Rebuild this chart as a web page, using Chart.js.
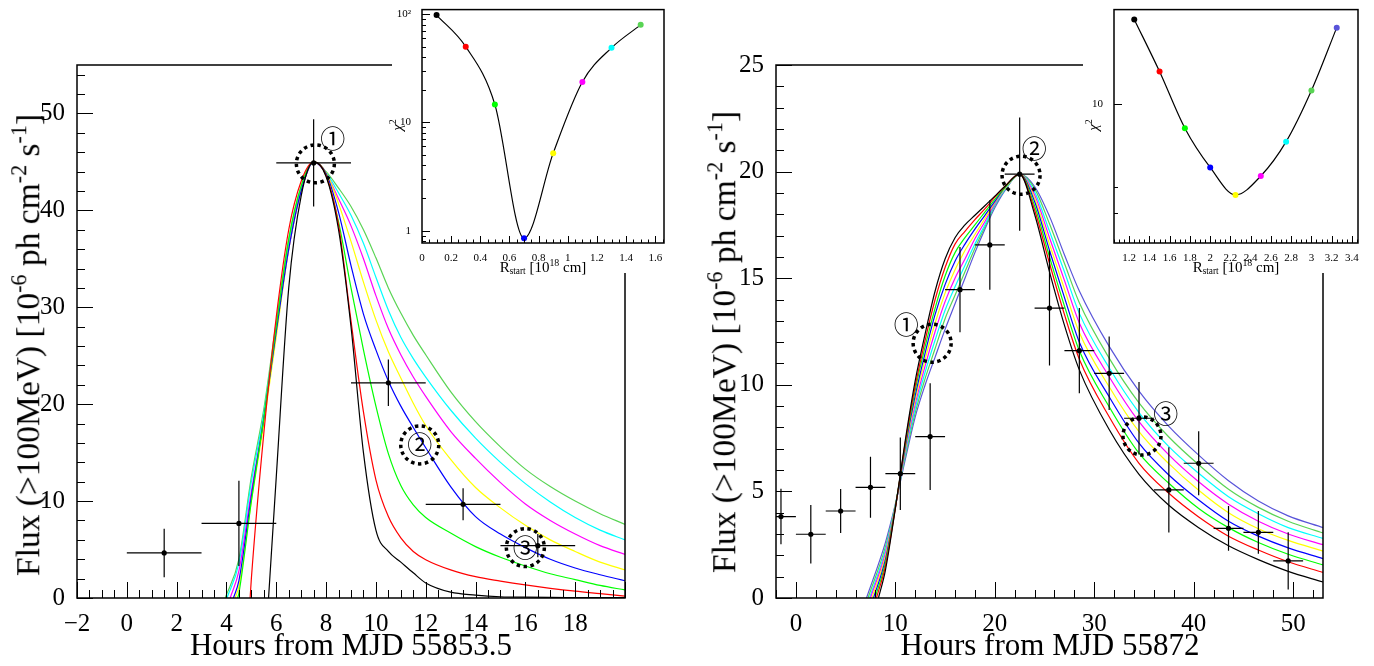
<!DOCTYPE html>
<html>
<head>
<meta charset="utf-8">
<script src="https://cdn.jsdelivr.net/npm/chart.js@4.4.0/dist/chart.umd.min.js"></script>
<style>
  body { margin: 0; background: #fff; }
  #wrap { position: relative; width: 1374px; height: 666px; overflow: hidden; font-family: "Liberation Serif", serif; }
  canvas { position: absolute; top: 0; }
  .ttl { position: absolute; white-space: nowrap; color: #000; line-height: 1; }
  .ttl sup { font-size: 0.66em; vertical-align: 0.6em; line-height: 0; }
  .ttl sub { font-size: 0.62em; vertical-align: -0.25em; line-height: 0; }
  .ytl { transform: translate(-50%, -50%) rotate(-90deg); }
  .xtl { transform: translateX(-50%); }
</style>
</head>
<body>
<div id="wrap">
  <canvas id="mainL" width="660" height="666" style="left:0"></canvas>
  <canvas id="mainR" width="660" height="666" style="left:690px"></canvas>
  <canvas id="insetL" width="288" height="273" style="left:392px;background:#fff"></canvas>
  <canvas id="insetR" width="291" height="273" style="left:1083px;background:#fff"></canvas>

  <div class="ttl ytl" style="left:28px;top:345px;font-size:33.5px">Flux (&gt;100MeV) [10<sup>-6</sup> ph cm<sup>-2</sup> s<sup>-1</sup>]</div>
  <div class="ttl ytl" style="left:724px;top:342px;font-size:33.5px">Flux (&gt;100MeV) [10<sup>-6</sup> ph cm<sup>-2</sup> s<sup>-1</sup>]</div>
  <div class="ttl xtl" style="left:351px;top:629px;font-size:31px">Hours from MJD 55853.5</div>
  <div class="ttl xtl" style="left:1050px;top:629px;font-size:31px">Hours from MJD 55872</div>

  <div class="ttl ytl" style="left:397px;top:125px;font-size:15px"><i>χ</i><sup>2</sup></div>
  <div class="ttl ytl" style="left:1093px;top:125px;font-size:15px"><i>χ</i><sup>2</sup></div>
  <div class="ttl xtl" style="left:543px;top:260px;font-size:15px">R<sub>start</sub> [10<sup>18</sup> cm]</div>
  <div class="ttl xtl" style="left:1236px;top:260px;font-size:15px">R<sub>start</sub> [10<sup>18</sup> cm]</div>
</div>
<script>
// ---- flare 1 (left) ----
const leftHours   = [1.5, 4.5, 7.5, 10.5, 13.5, 16.5];
const leftFlux    = [4.65, 7.7, 44.9, 22.2, 9.67, 5.4];
const leftFluxErr = [2.5, 4.4, 4.5, 2.4, 1.65, 1.2];
const leftHalfBin = 1.5;

const leftGrid  = [4.5, 5, 5.5, 6, 6.5, 7, 7.5, 8, 8.5, 9, 9.5, 10, 10.5, 11, 11.5, 12, 13, 14, 15, 16, 17, 18, 19, 20];
const leftOnset = [5.69, 4.95, 4.45, 4.28, 4.35, 4.15, 4.02, 3.95];
const leftBlack   = [null, null, null, 12.5, 32, 41.5, 45, 43.5, 38, 28, 15, 7, 4.8, 3.7, 2.6, 1.55, 0.6, 0.3, 0.13, 0.08, 0.06, 0.05, 0.04, 0.03];
const leftRed     = [null, 2, 17, 29, 38, 43, 45, 43.6, 38.5, 28.6, 19.2, 12.2, 8.4, 6.2, 4.8, 3.95, 2.9, 2.2, 1.75, 1.35, 1.0, 0.7, 0.45, 0.2];
const leftGreen   = [0.5, 10, 18.5, 28, 37, 42.5, 45, 43.6, 38.8, 32.0, 25.6, 19.8, 14.9, 11.6, 9.6, 8.3, 6.7, 5.3, 4.2, 3.3, 2.5, 1.9, 1.3, 0.83];
const leftBlue    = [1.8, 10.5, 18.5, 27.5, 36, 42, 45, 43.8, 39.8, 34.3, 29.3, 25.6, 22.4, 19.8, 17.6, 15.5, 11.5, 8.4, 6.6, 5.2, 4.0, 3.1, 2.4, 1.78];
const leftYellow  = [1.2, 10, 18, 27, 36, 42, 45, 43.9, 40.7, 36.8, 32.6, 28.7, 25.4, 22.7, 20.1, 17.8, 14.3, 11.4, 9.3, 7.5, 6.0, 4.8, 3.7, 2.9];
const leftMagenta = [2.8, 11, 18.5, 27.5, 36, 42, 45, 43.8, 41.2, 38.4, 35.0, 31.2, 27.8, 25.1, 22.8, 20.8, 17.2, 14.4, 11.9, 9.7, 8.0, 6.6, 5.4, 4.5];
const leftCyan    = [3.6, 12, 19, 28, 36.5, 42.3, 45, 43.9, 41.8, 39.5, 36.6, 33.1, 29.7, 26.9, 24.7, 22.8, 19.4, 16.5, 14.0, 11.8, 9.9, 8.3, 7.0, 6.0];
const leftLtGreen = [4, 12.5, 19.5, 28.5, 37, 42.5, 45, 44.0, 42.3, 40.4, 38.0, 35.1, 32.0, 29.4, 27.1, 25.1, 21.3, 18.2, 15.6, 13.3, 11.5, 10.0, 8.7, 7.6];

const leftXLabels = [-2, 0, 2, 4, 6, 8, 10, 12, 14, 16, 18];
const leftYLabels = [0, 10, 20, 30, 40, 50];

// ---- flare 2 (right) ----
const rightHours   = [-1.5, 1.5, 4.5, 7.5, 10.5, 13.5, 16.5, 19.5, 22.5, 25.5, 28.5, 31.5, 34.5, 37.5, 40.5, 43.5, 46.5, 49.5];
const rightFlux    = [3.82, 2.99, 4.08, 5.19, 5.83, 7.57, 14.46, 16.56, 19.88, 13.6, 11.6, 10.54, 8.43, 5.07, 6.32, 3.27, 3.08, 1.74];
const rightFluxErr = [1.3, 1.37, 1.03, 1.43, 1.7, 2.5, 2.0, 2.1, 2.66, 2.7, 2.0, 1.72, 1.7, 2.0, 1.5, 1.05, 1.0, 1.34];
const rightHalfBin = 1.5;

const rightGrid  = [9, 10, 11, 12, 13, 14, 15, 16, 17, 18, 19, 20, 21, 22.5, 24, 25.5, 27, 28.5, 31.5, 34.5, 37.5, 40.5, 43.5, 46.5, 49.5, 53];
const rightOnset = [8.3, 8.1, 7.95, 7.8, 7.65, 7.5, 7.4, 7.25, 7.1];
const rightBlack     = [1.3, 4.2, 7.4, 10.2, 12.4, 14.4, 15.9, 16.9, 17.5, 17.95, 18.4, 18.85, 19.3, 19.88, 18.0, 15.3, 12.8, 10.7, 7.9, 5.8, 4.35, 3.3, 2.45, 1.8, 1.25, 0.75];
const rightRed       = [1.5, 4.2, 7.3, 9.95, 12.1, 14.0, 15.5, 16.6, 17.2, 17.75, 18.25, 18.8, 19.3, 19.88, 18.2, 15.7, 13.3, 11.2, 8.5, 6.32, 4.91, 3.8, 2.9, 2.25, 1.7, 1.2];
const rightGreen     = [1.65, 4.25, 7.2, 9.75, 11.8, 13.6, 15.1, 16.2, 16.9, 17.5, 18.1, 18.7, 19.25, 19.88, 18.4, 16.0, 13.7, 11.6, 8.97, 6.79, 5.38, 4.2, 3.3, 2.6, 2.05, 1.55];
const rightBlue      = [1.8, 4.25, 7.1, 9.5, 11.5, 13.3, 14.7, 15.8, 16.6, 17.3, 17.95, 18.6, 19.25, 19.88, 18.6, 16.3, 14.1, 12.0, 9.44, 7.26, 5.77, 4.6, 3.6, 2.9, 2.35, 1.85];
const rightYellow    = [1.95, 4.3, 7.0, 9.3, 11.2, 12.9, 14.3, 15.4, 16.3, 17.05, 17.8, 18.55, 19.2, 19.88, 18.75, 16.6, 14.5, 12.45, 9.91, 7.8, 6.3, 5.05, 4.0, 3.25, 2.7, 2.2];
const rightMagenta   = [2.1, 4.3, 6.9, 9.1, 10.9, 12.5, 13.9, 15.0, 15.9, 16.85, 17.65, 18.5, 19.2, 19.88, 18.9, 16.9, 14.9, 12.9, 10.38, 8.27, 6.71, 5.45, 4.4, 3.6, 3.0, 2.5];
const rightCyan      = [2.25, 4.35, 6.8, 8.9, 10.6, 12.1, 13.5, 14.6, 15.6, 16.6, 17.5, 18.45, 19.15, 19.88, 19.05, 17.2, 15.3, 13.35, 10.8, 8.7, 7.1, 5.85, 4.75, 3.95, 3.3, 2.8];
const rightLtGreen   = [2.4, 4.35, 6.65, 8.7, 10.3, 11.7, 13.1, 14.2, 15.3, 16.4, 17.4, 18.4, 19.15, 19.88, 19.2, 17.55, 15.7, 13.85, 11.25, 9.15, 7.55, 6.25, 5.1, 4.25, 3.6, 3.05];
const rightSlateBlue = [2.6, 4.4, 6.5, 8.5, 10.0, 11.3, 12.6, 13.8, 15.0, 16.2, 17.3, 18.3, 19.1, 19.88, 19.3, 17.9, 16.1, 14.4, 11.8, 9.7, 8.05, 6.7, 5.5, 4.55, 3.85, 3.3];

const rightXLabels = [0, 10, 20, 30, 40, 50];
const rightYLabels = [0, 5, 10, 15, 20, 25];

// ---- chi2 scans (insets) ----
const leftRstart  = [0.1, 0.3, 0.5, 0.7, 0.9, 1.1, 1.3, 1.5];
const leftChi2    = [98, 50, 14.6, 0.85, 5.2, 23.6, 48.8, 79.5];
const rightRstart = [1.25, 1.5, 1.75, 2.0, 2.25, 2.5, 2.75, 3.0, 3.25];
const rightChi2   = [25.4, 14.3, 7.66, 4.97, 3.67, 4.52, 6.6, 11.6, 23.2];
const leftInsetXLabels  = [0, 0.2, 0.4, 0.6, 0.8, 1, 1.2, 1.4, 1.6];
const rightInsetXLabels = [1.2, 1.4, 1.6, 1.8, 2, 2.2, 2.4, 2.6, 2.8, 3, 3.2, 3.4];

// circled annotations
const leftMarkX  = [7.57, 11.76, 16.0],  leftMarkY  = [44.8, 15.8, 5.2];
const leftTagX   = [8.27, 11.76, 16.0],  leftTagY   = [47.4, 15.8, 5.2];
const rightMarkX = [13.7, 22.64, 34.8],  rightMarkY = [11.95, 19.83, 7.6];
const rightTagX  = [11.1, 23.97, 37.2],  rightTagY  = [12.85, 21.1, 8.66];
const tagText = ['\u2460', '\u2461', '\u2462'];

const curveColors = ['#000000', '#ff0000', '#00ff00', '#0000ff', '#ffff00', '#ff00ff', '#00ffff', '#59d454', '#5954d9'];
const SERIF = '"Liberation Serif", "Times New Roman", serif';

Chart.defaults.font.family = SERIF;
Chart.defaults.color = '#000';

function fmt(v) {
  const s = String(Math.round(v * 100) / 100);
  return v < 0 ? '\u2212' + s.slice(1) : s;
}

function linTicks(min, max, minorStep, majorStep, majLen, minLen) {
  const out = [];
  const start = Math.ceil(min / minorStep - 1e-6);
  const stop = Math.floor(max / minorStep + 1e-6);
  for (let k = start; k <= stop; k++) {
    const v = k * minorStep;
    const q = v / majorStep;
    out.push([v, Math.abs(q - Math.round(q)) < 1e-6 ? majLen : minLen]);
  }
  return out;
}

function logTicks(min, max, majLen, minLen) {
  const out = [];
  for (let e = -1; e <= 2; e++) {
    for (let m = 1; m <= 9; m++) {
      const v = m * Math.pow(10, e);
      if (v >= min && v <= max) out.push([v, m === 1 ? majLen : minLen]);
    }
  }
  return out;
}

// inward ROOT style ticks + frame
function rootAxes(xTicks, yTicks, frameW) {
  return {
    id: 'rootAxes',
    afterDatasetsDraw(chart) {
      const { ctx, chartArea: a } = chart;
      const xs = chart.scales.x, ys = chart.scales.y;
      ctx.save();
      ctx.strokeStyle = '#000';
      ctx.lineWidth = 1;
      ctx.beginPath();
      xTicks.forEach(([v, len]) => {
        const p = Math.round(xs.getPixelForValue(v)) + 0.5;
        ctx.moveTo(p, a.bottom); ctx.lineTo(p, a.bottom - len);
      });
      yTicks.forEach(([v, len]) => {
        const p = Math.round(ys.getPixelForValue(v)) + 0.5;
        ctx.moveTo(a.left, p); ctx.lineTo(a.left + len, p);
      });
      ctx.stroke();
      ctx.lineWidth = frameW;
      ctx.strokeRect(a.left, a.top, a.right - a.left, a.bottom - a.top);
      ctx.restore();
    }
  };
}

function errBars(xv, yv, ex, ey) {
  return {
    id: 'errBars',
    afterDatasetsDraw(chart) {
      const { ctx, chartArea: a } = chart;
      const xs = chart.scales.x, ys = chart.scales.y;
      ctx.save();
      ctx.beginPath();
      ctx.rect(a.left, a.top, a.right - a.left, a.bottom - a.top);
      ctx.clip();
      ctx.strokeStyle = '#000';
      ctx.lineWidth = 1.2;
      ctx.beginPath();
      xv.forEach((x, i) => {
        const px = xs.getPixelForValue(x), py = ys.getPixelForValue(yv[i]);
        ctx.moveTo(xs.getPixelForValue(x - ex), py);
        ctx.lineTo(xs.getPixelForValue(x + ex), py);
        ctx.moveTo(px, ys.getPixelForValue(yv[i] - ey[i]));
        ctx.lineTo(px, ys.getPixelForValue(yv[i] + ey[i]));
      });
      ctx.stroke();
      ctx.restore();
    }
  };
}

function marks(mx, my, tx, ty) {
  return {
    id: 'marks',
    afterDatasetsDraw(chart) {
      const { ctx } = chart;
      const xs = chart.scales.x, ys = chart.scales.y;
      ctx.save();
      ctx.strokeStyle = '#000';
      ctx.lineWidth = 3.5;
      ctx.setLineDash([3.5, 3.5]);
      mx.forEach((x, i) => {
        ctx.beginPath();
        ctx.arc(xs.getPixelForValue(x), ys.getPixelForValue(my[i]), 19, 0, Math.PI * 2);
        ctx.stroke();
      });
      ctx.setLineDash([]);
      ctx.fillStyle = '#000';
      ctx.font = '25px "Noto Sans CJK JP", "DejaVu Sans", sans-serif';
      ctx.textAlign = 'center';
      ctx.textBaseline = 'middle';
      tx.forEach((x, i) => ctx.fillText(tagText[i], xs.getPixelForValue(x), ys.getPixelForValue(ty[i])));
      ctx.restore();
    }
  };
}

function curveSet(grid, onset, ys, color) {
  const pts = [{ x: onset, y: 0 }];
  grid.forEach((x, i) => { if (ys[i] != null && x > onset) pts.push({ x, y: ys[i] }); });
  return { data: pts, borderColor: color, borderWidth: 1.2, pointRadius: 0,
           cubicInterpolationMode: 'monotone', fill: false };
}

function pointSet(xv, yv) {
  return { data: xv.map((x, i) => ({ x, y: yv[i] })), showLine: false, pointRadius: 2.6,
           pointBackgroundColor: '#000', pointBorderWidth: 0, borderColor: '#000' };
}

function mainOptions(c) {
  return {
    responsive: false, animation: false, events: [],
    layout: { padding: { top: c.top, right: c.right, left: 0, bottom: 0 } },
    plugins: { legend: { display: false }, tooltip: { enabled: false } },
    scales: {
      x: {
        type: 'linear', min: c.xmin, max: c.xmax,
        grid: { display: false }, border: { display: false },
        afterBuildTicks: s => { s.ticks = c.xLabels.map(v => ({ value: v })); },
        afterFit: s => { s.height = c.xh; },
        ticks: { font: { size: c.fs }, color: '#000', padding: c.xpad, maxRotation: 0, autoSkip: false, callback: v => c.xfmt(v) }
      },
      y: {
        type: c.ylog ? 'logarithmic' : 'linear', min: c.ymin, max: c.ymax,
        grid: { display: false }, border: { display: false },
        afterBuildTicks: s => { s.ticks = c.yLabels.map(v => ({ value: v })); },
        afterFit: s => { s.width = c.yw; },
        ticks: { font: { size: c.fs }, color: '#000', padding: c.ypad, autoSkip: false, callback: v => c.yfmt(v) }
      }
    }
  };
}

// left main panel
const leftCurves = [leftBlack, leftRed, leftGreen, leftBlue, leftYellow, leftMagenta, leftCyan, leftLtGreen];
new Chart(document.getElementById('mainL'), {
  type: 'line',
  data: { datasets: [pointSet(leftHours, leftFlux)].concat(
    leftCurves.map((ys, i) => curveSet(leftGrid, leftOnset[i], ys, curveColors[i]))) },
  options: mainOptions({ xmin: -2, xmax: 20, ymin: 0, ymax: 55, xLabels: leftXLabels, yLabels: leftYLabels,
    top: 65, right: 35, xh: 68, yw: 77, fs: 25, xpad: 3, ypad: 4, xfmt: fmt, yfmt: fmt }),
  plugins: [rootAxes(linTicks(-2, 20, 0.5, 2, 16, 8), linTicks(0, 55, 2, 10, 16, 8), 1.5),
            errBars(leftHours, leftFlux, leftHalfBin, leftFluxErr),
            marks(leftMarkX, leftMarkY, leftTagX, leftTagY)]
});

// right main panel
const rightCurves = [rightBlack, rightRed, rightGreen, rightBlue, rightYellow, rightMagenta, rightCyan, rightLtGreen, rightSlateBlue];
new Chart(document.getElementById('mainR'), {
  type: 'line',
  data: { datasets: [pointSet(rightHours, rightFlux)].concat(
    rightCurves.map((ys, i) => curveSet(rightGrid, rightOnset[i], ys, curveColors[i]))) },
  options: mainOptions({ xmin: -2, xmax: 53, ymin: 0, ymax: 25, xLabels: rightXLabels, yLabels: rightYLabels,
    top: 65, right: 27, xh: 68, yw: 86, fs: 25, xpad: 3, ypad: 4, xfmt: fmt, yfmt: fmt }),
  plugins: [rootAxes(linTicks(-2, 53, 2, 10, 16, 8), linTicks(0, 25, 1, 5, 16, 8), 1.5),
            errBars(rightHours, rightFlux, rightHalfBin, rightFluxErr),
            marks(rightMarkX, rightMarkY, rightTagX, rightTagY)]
});

// chi2 insets
function insetChart(id, rx, chi, xmin, xmax, ymin, ymax, xLabels, yLabels, yMinor, yw) {
  new Chart(document.getElementById(id), {
    type: 'line',
    data: { datasets: [
      { data: rx.map((x, i) => ({ x, y: chi[i] })), showLine: false, pointRadius: 3,
        pointBackgroundColor: curveColors, pointBorderWidth: 0 },
      { data: rx.map((x, i) => ({ x, y: chi[i] })), borderColor: '#000', borderWidth: 1.2,
        pointRadius: 0, cubicInterpolationMode: 'monotone', fill: false }
    ] },
    options: mainOptions({ xmin, xmax, ymin, ymax, ylog: true, xLabels, yLabels,
      top: 6, right: 16, xh: 30, yw, fs: 11, xpad: 1, ypad: 3,
      xfmt: v => String(Math.round(v * 10) / 10), yfmt: v => (v === 100 ? '10\u00b2' : String(v)) }),
    plugins: [rootAxes(linTicks(xmin, xmax, 0.05, 0.2, 7, 3.5), yMinor, 1.5)]
  });
}

insetChart('insetL', leftRstart, leftChi2, 0, 1.66, 0.77, 110, leftInsetXLabels, [1, 10, 100],
           logTicks(0.77, 110, 8, 4), 30);
insetChart('insetR', rightRstart, rightChi2, 1.05, 3.46, 2.16, 28.3, rightInsetXLabels, [10],
           [[3, 4], [4, 4], [10, 8]], 31);
</script>
</body>
</html>
